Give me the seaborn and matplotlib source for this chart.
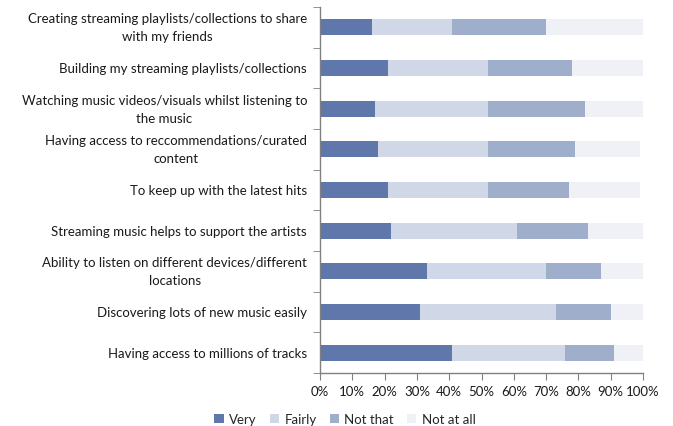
import numpy as np
import pandas as pd
import seaborn as sns
import matplotlib.pyplot as plt
from matplotlib.patches import Patch
from matplotlib.ticker import FixedLocator, PercentFormatter


categories = [
    'Creating streaming playlists/collections to share\nwith my friends',
    'Building my streaming playlists/collections',
    'Watching music videos/visuals whilst listening to\nthe music',
    'Having access to reccommendations/curated\ncontent',
    'To keep up with the latest hits',
    'Streaming music helps to support the artists',
    'Ability to listen on different devices/different\nlocations',
    'Discovering lots of new music easily',
    'Having access to millions of tracks',
]
very = [16, 21, 17, 18, 21, 22, 33, 31, 41]
fairly = [25, 31, 35, 34, 31, 39, 37, 42, 35]
not_that = [29, 26, 30, 27, 25, 22, 17, 17, 15]
not_at_all = [30, 22, 18, 20, 22, 17, 13, 10, 9]
series = ['Very', 'Fairly', 'Not that', 'Not at all']
colors = ['#5f77aa', '#d0d7e6', '#9eaecb', '#eff1f7']


def main():
    sns.set_style('white')
    plt.rcParams['font.family'] = 'Lato'

    df = pd.DataFrame({
        'category': categories,
        'Very': very,
        'Fairly': fairly,
        'Not that': not_that,
        'Not at all': not_at_all,
    })
    cum = df[series].cumsum(axis=1)

    fig = plt.figure(figsize=(6.73, 4.27), dpi=100)
    ax = fig.add_axes([320 / 673, 1 - 374 / 427, 323 / 673, 366 / 427])

    # stacked bars: draw the longest cumulative first
    for name, color in reversed(list(zip(series, colors))):
        sns.barplot(x=cum[name], y=df['category'], ax=ax, color=color,
                    width=0.39, linewidth=0, orient='h', saturation=1)

    ax.set_xlim(0, 100)
    ax.set_ylim(len(categories) - 0.5, -0.5)
    ax.set_xticks(np.arange(0, 101, 10))
    ax.xaxis.set_major_formatter(PercentFormatter(decimals=0))
    ax.set_xlabel('')
    ax.set_ylabel('')

    # category labels: one text per line, lines centred under each other,
    # block right edge a few pixels left of the axis
    ax.set_yticks(np.arange(len(categories)))
    ax.set_yticklabels([])
    trans = ax.get_yaxis_transform()
    renderer = fig.canvas.get_renderer()
    ax_width = ax.get_window_extent(renderer).width
    right = -13 / 323
    dy = 18 / (366 / len(categories))
    for i, label in enumerate(categories):
        lines = label.split('\n')
        texts = [ax.text(0, i, line, transform=trans, ha='center', va='center',
                         fontsize=9.5, color='#1a1a1a') for line in lines]
        wmax = max(t.get_window_extent(renderer).width for t in texts)
        xc = right - wmax / 2 / ax_width
        for k, t in enumerate(texts):
            t.set_x(xc)
            t.set_y(i + (k - (len(lines) - 1) / 2) * dy)

    ax.yaxis.set_minor_locator(FixedLocator(np.arange(-0.5, len(categories), 1)))
    ax.tick_params(axis='y', which='major', length=0)
    ax.tick_params(axis='y', which='minor', length=5, color='#808080', left=True)
    ax.tick_params(axis='x', length=5, color='#808080', bottom=True, labelsize=9.5, labelcolor='#1a1a1a')

    for side in ('top', 'right'):
        ax.spines[side].set_visible(False)
    for side in ('left', 'bottom'):
        ax.spines[side].set_color('#808080')
        ax.spines[side].set_linewidth(1)

    handles = [Patch(facecolor=c, edgecolor='none', label=s) for s, c in zip(series, colors)]
    fig.legend(handles=handles, loc='lower center', bbox_to_anchor=(345 / 673, -0.026),
               ncol=4, frameon=False, fontsize=9.5, handlelength=0.7, handleheight=0.7,
               handletextpad=0.4, columnspacing=1.0)

    plt.savefig('out.png', dpi=100)


if __name__ == '__main__':
    main()
